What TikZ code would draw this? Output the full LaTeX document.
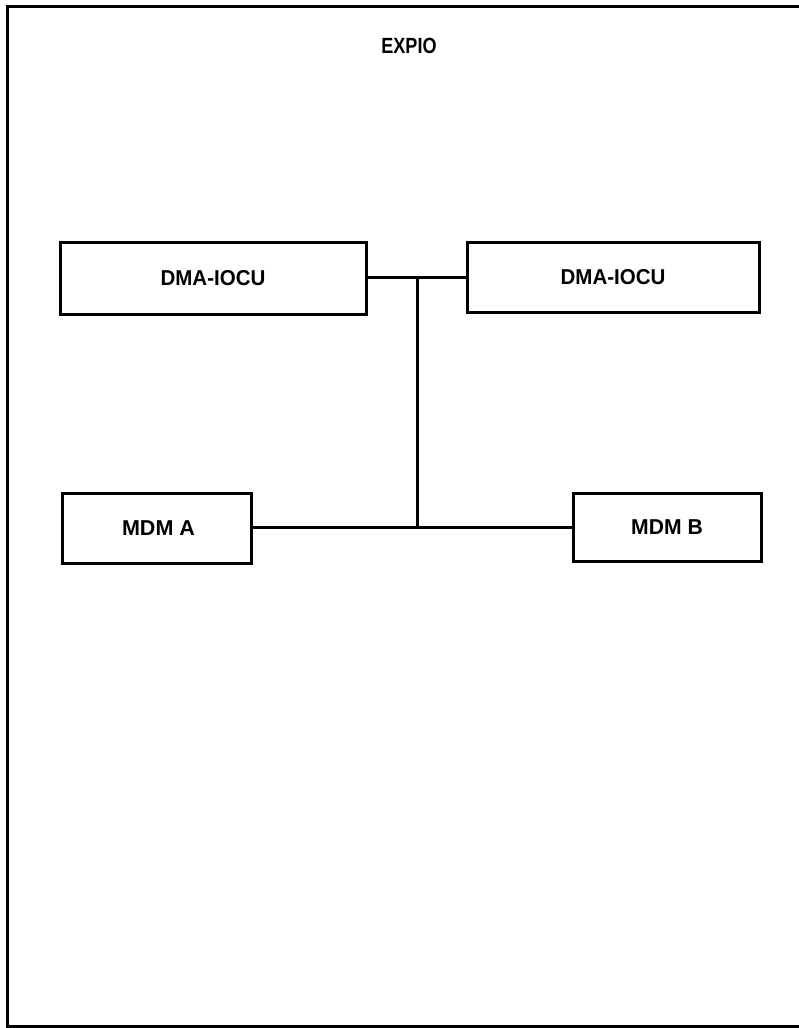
\documentclass[tikz,border=0pt]{standalone}
\usepackage{fontspec}
\setmainfont{Liberation Sans}
\begin{document}
\begin{tikzpicture}[x=1pt,y=-1pt,
  blk/.style={draw,line width=3pt,minimum width=#1,inner sep=0pt,font=\fontsize{20.5}{24}\selectfont\bfseries},
  wire/.style={line width=3pt},
  title/.style={font=\fontsize{22}{26}\selectfont\bfseries}]
\useasboundingbox (0,0) rectangle (799,1028);
\fill[white] (0,0) rectangle (799,1028);
\draw[line width=3pt,line cap=butt] (799,6) -- (7,6) -- (7,1026) -- (799,1026);
\node[title] (t) at (409,46) {\scalebox{0.82}[1]{EXPIO}};
\node[blk=306pt,minimum height=72pt] (d1) at (213,278) {\scalebox{1.0}[1.05]{DMA-IOCU}};
\node[blk=292pt,minimum height=70pt] (d2) at (613,277) {\scalebox{1.0}[1.05]{DMA-IOCU}};
\node[blk=189pt,minimum height=70pt] (ma) at (156.5,528) {\hspace*{4pt}\scalebox{1.05}[1.05]{MDM A}};
\node[blk=188pt,minimum height=68pt] (mb) at (667,527) {\scalebox{1.03}[1.05]{MDM B}};
\coordinate (jt) at (417,277);
\coordinate (jb) at (417,527);
\draw[wire] (d1.east |- jt) -- (d2.west |- jt);
\draw[wire] (jt) -- (jb);
\draw[wire] (ma.east |- jb) -- (mb.west |- jb);
\end{tikzpicture}
\end{document}
